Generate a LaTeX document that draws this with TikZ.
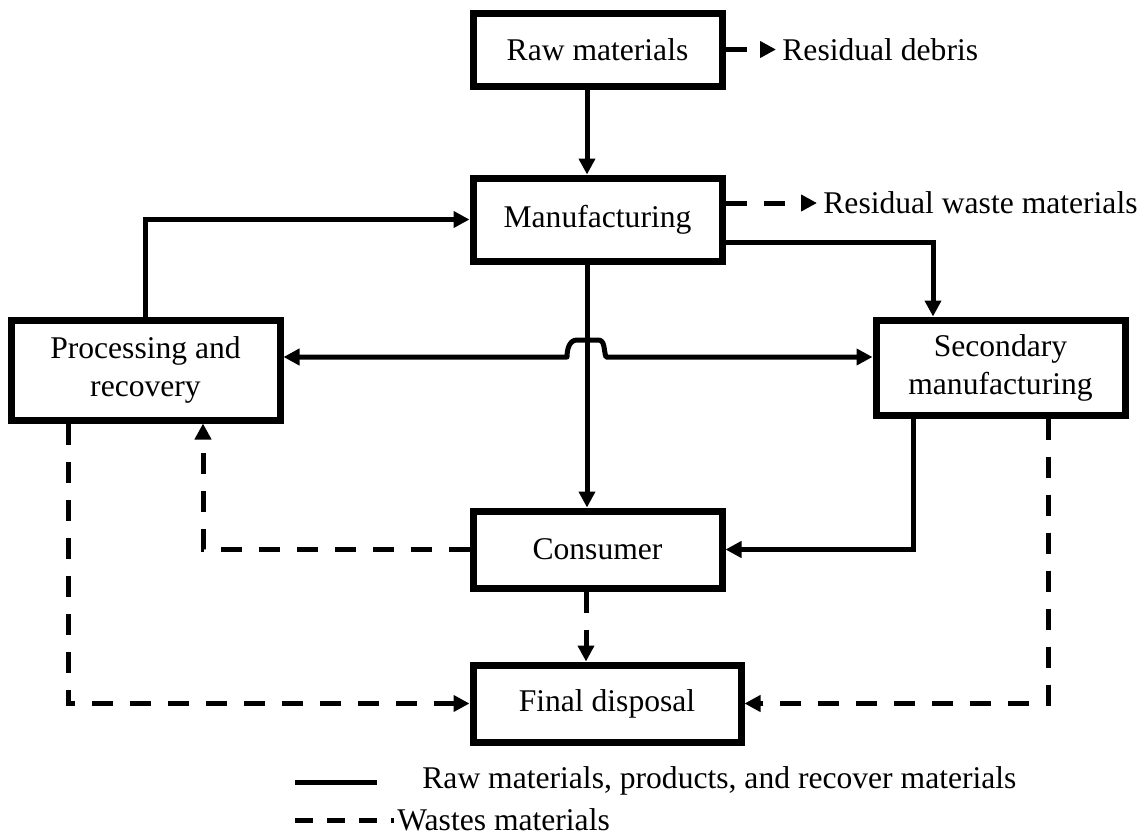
\documentclass[tikz,border=0pt]{standalone}
\usepackage{fontspec}
\setmainfont{Liberation Serif}
\usetikzlibrary{arrows.meta}
\begin{document}
\begin{tikzpicture}[x=0.5pt,y=-0.5pt,
  txt/.style={font=\fontsize{15.8}{19}\selectfont},
  box/.style={txt,draw,line width=3.5pt,inner sep=0pt,align=center},
  lbl/.style={txt,inner sep=3pt},
  conn/.style={line width=2.5pt,-{Triangle[length=8pt,width=8pt]}},
  waste/.style={conn,dash pattern=on 10.5pt off 8.5pt}]
\useasboundingbox (0,0) rectangle (1148,835);
% boxes
\node[box,minimum width=124.5pt,minimum height=36.5pt] (raw) at (597.5,49.5) {Raw materials};
\node[box,minimum width=124.5pt,minimum height=41.5pt] (man) at (597.5,219.5) {Manufacturing};
\node[box,minimum width=134.5pt,minimum height=50pt] (proc) at (145.5,370) {Processing and\\recovery};
\node[box,minimum width=124.5pt,minimum height=47.5pt] (sec) at (1000.5,367.5) {Secondary\\manufacturing};
\node[box,minimum width=124.5pt,minimum height=38.5pt] (cons) at (597.5,549.5) {Consumer};
\node[box,minimum width=134pt,minimum height=38.5pt] (final) at (607,703.5) {Final disposal};
% labels
\node[lbl,anchor=west] (rd) at (776,49.5) {Residual debris};
\node[lbl,anchor=west] (rw) at (817,203) {Residual waste materials};
% helper coordinates
\coordinate (xa) at (587,0);
\coordinate (hy) at (0,357);
\coordinate (yb) at (0,242);
\coordinate (xs) at (933,0);
\coordinate (xc) at (913,0);
\coordinate (xd1) at (68,0);
\coordinate (xd2) at (203,0);
\coordinate (xd3) at (1048,0);
\coordinate (xd4) at (586,0);
\coordinate (ym) at (0,203);
% solid connectors
\draw[conn] (raw.south -| xa) -- (man.north -| xa);
\draw[conn] (man.south -| xa) -- (cons.north -| xa);
\draw[conn] (proc.north) |- (man.west);
\draw[conn] (man.east |- yb) -| (sec.north -| xs);
\draw[conn] (sec.south -| xc) |- (cons.east);
\draw[line width=2.5pt,line join=round,{Triangle[length=8pt,width=8pt]}-{Triangle[length=8pt,width=8pt]}]
  (proc.east |- hy) -- (567,357) to[out=90,in=180] (577,340) -- (598,340) to[out=0,in=110] (606,357) -- (sec.west |- hy);
% dashed connectors
\draw[waste] (raw.east) -- (rd.west);
\draw[waste] (man.east |- ym) -- (rw.west);
\draw[waste] (proc.south -| xd1) |- (final.west);
\draw[waste] (sec.south -| xd3) |- (final.east);
\draw[waste] (cons.west) -| (proc.south -| xd2);
\draw[waste] (cons.south -| xd4) -- (final.north -| xd4);
% legend
\coordinate (ls1) at (295,782);
\coordinate (ls2) at (377,782);
\coordinate (ld1) at (295,820);
\coordinate (ld2) at (394,820);
\draw[line width=2.5pt] (ls1) -- (ls2);
\draw[line width=2.5pt,dash pattern=on 9pt off 7pt] (ld1) -- (ld2);
\node[lbl,anchor=west] (l1) at (416,781) {Raw materials, products, and recover materials};
\node[lbl,anchor=west] (l2) at (391,820) {Wastes materials};
\end{tikzpicture}
\end{document}
